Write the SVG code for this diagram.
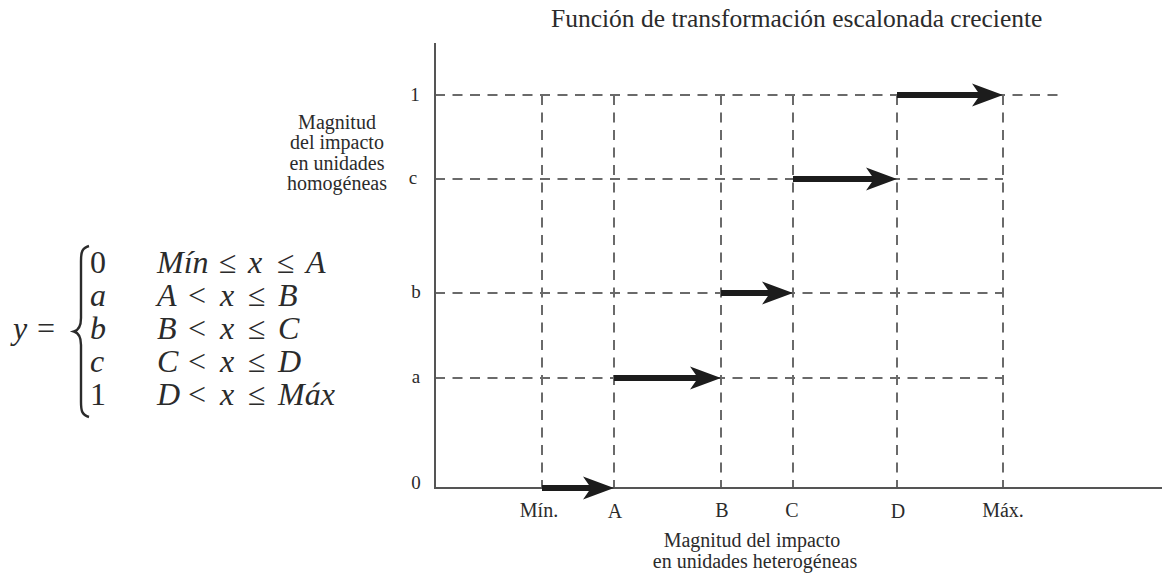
<svg xmlns="http://www.w3.org/2000/svg" width="1162" height="577" viewBox="0 0 1162 577">
<style>
text{font-family:"Liberation Serif","Times New Roman",serif;fill:#2b2b2b}
.eq{font-size:32px}
.it{font-style:italic}
.lab{font-size:19px}
.ax{font-size:20px}
.title{font-size:25.5px}
.axis{stroke:#555;stroke-width:2;fill:none}
.dash{stroke:#6a6a6a;stroke-width:2;stroke-dasharray:10 7.5;fill:none}
.shaft{stroke:#1c1c1c;stroke-width:6;fill:none}
.head{fill:#1c1c1c}
</style>
<defs>
<path id="ah" d="M0,0 L-31,-11.5 L-23,0 L-31,11.5 Z"/>
</defs>
<rect width="1162" height="577" fill="#fff"/>

<g id="equation">
<text class="eq it" x="13" y="339">y</text>
<text class="eq" x="37" y="339">=</text>
<path d="M89 246 C82 248 81 252 81 261 L81 318 C81 326 79 330 74 331.5 C79 333 81 337 81 345 L81 402 C81 411 82 415 89 417" fill="none" stroke="#2b2b2b" stroke-width="2.4"/>
<g id="row1">
<text class="eq" x="90" y="273">0</text>
<text class="eq it" x="157" y="273">Mín</text>
<text class="eq" x="219" y="273">≤</text>
<text class="eq it" x="248" y="273">x</text>
<text class="eq" x="277" y="273">≤</text>
<text class="eq it" x="306" y="273">A</text>
</g>
<g id="row2">
<text class="eq it" x="90" y="306">a</text>
<text class="eq it" x="157" y="306">A</text>
<text class="eq" x="188" y="306">&lt;</text>
<text class="eq it" x="220" y="306">x</text>
<text class="eq" x="248" y="306">≤</text>
<text class="eq it" x="278" y="306">B</text>
</g>
<g id="row3">
<text class="eq it" x="90" y="339">b</text>
<text class="eq it" x="157" y="339">B</text>
<text class="eq" x="188" y="339">&lt;</text>
<text class="eq it" x="220" y="339">x</text>
<text class="eq" x="248" y="339">≤</text>
<text class="eq it" x="278" y="339">C</text>
</g>
<g id="row4">
<text class="eq it" x="90" y="372">c</text>
<text class="eq it" x="157" y="372">C</text>
<text class="eq" x="188" y="372">&lt;</text>
<text class="eq it" x="220" y="372">x</text>
<text class="eq" x="248" y="372">≤</text>
<text class="eq it" x="278" y="372">D</text>
</g>
<g id="row5">
<text class="eq" x="90" y="405">1</text>
<text class="eq it" x="157" y="405">D</text>
<text class="eq" x="188" y="405">&lt;</text>
<text class="eq it" x="220" y="405">x</text>
<text class="eq" x="248" y="405">≤</text>
<text class="eq it" x="278" y="405">Máx</text>
</g>
</g>

<g id="title">
<text class="title" x="551" y="27">Función de transformación escalonada creciente</text>
</g>

<g id="grid">
<path class="dash" d="M435 95H1063 M435 179H1003 M435 293H1003 M435 378H1003"/>
<path class="dash" d="M542 95V488 M614 95V488 M721 95V488 M793 95V488 M897 95V488 M1003 95V488"/>
</g>

<g id="axes">
<path class="axis" d="M435 43V488H1162"/>
</g>

<g id="y-labels">
<text class="lab" x="415" y="101" text-anchor="middle">1</text>
<text class="lab" x="413" y="184" text-anchor="middle">c</text>
<text class="lab" x="416" y="298" text-anchor="middle">b</text>
<text class="lab" x="416" y="383" text-anchor="middle">a</text>
<text class="lab" x="416" y="489" text-anchor="middle">0</text>
</g>

<g id="y-title">
<text class="ax" text-anchor="middle" x="337" y="129">Magnitud</text>
<text class="ax" text-anchor="middle" x="337" y="149">del impacto</text>
<text class="ax" text-anchor="middle" x="337" y="170">en unidades</text>
<text class="ax" text-anchor="middle" x="337" y="190">homogéneas</text>
</g>

<g id="x-labels">
<text class="ax" text-anchor="middle" x="539" y="517">Mín.</text>
<text class="ax" text-anchor="middle" x="615" y="518">A</text>
<text class="ax" text-anchor="middle" x="722" y="517">B</text>
<text class="ax" text-anchor="middle" x="792" y="517">C</text>
<text class="ax" text-anchor="middle" x="898" y="518">D</text>
<text class="ax" text-anchor="middle" x="1003" y="517">Máx.</text>
</g>

<g id="x-title">
<text class="ax" text-anchor="middle" x="752" y="547">Magnitud del impacto</text>
<text class="ax" text-anchor="middle" x="755" y="568">en unidades heterogéneas</text>
</g>

<g id="connectors">
<path class="shaft" d="M542 488H592"/>
<use href="#ah" class="head" transform="translate(614 488)"/>
<path class="shaft" d="M614 378H699"/>
<use href="#ah" class="head" transform="translate(721 378)"/>
<path class="shaft" d="M721 293H771"/>
<use href="#ah" class="head" transform="translate(793 293)"/>
<path class="shaft" d="M793 179H875"/>
<use href="#ah" class="head" transform="translate(897 179)"/>
<path class="shaft" d="M897 95H981"/>
<use href="#ah" class="head" transform="translate(1003 95)"/>
</g>
</svg>
